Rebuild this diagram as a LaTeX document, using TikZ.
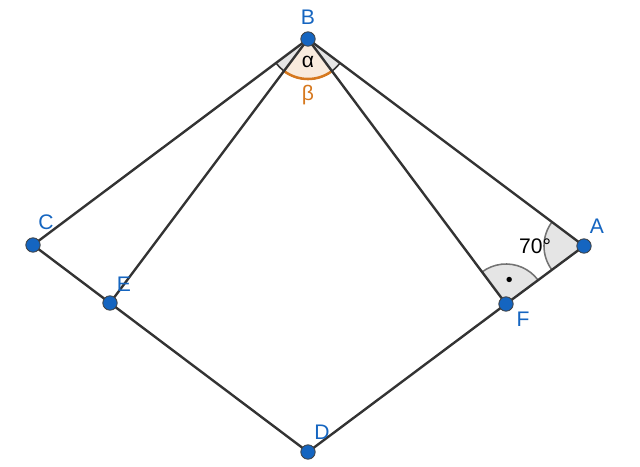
\documentclass[tikz,border=0pt]{standalone}
\usepackage{fontspec}
\setmainfont{Liberation Sans}
\usetikzlibrary{angles}

\definecolor{ptblue}{RGB}{21,101,192}
\definecolor{segline}{RGB}{51,51,51}
\definecolor{betaor}{RGB}{214,120,30}
\definecolor{arcgray}{RGB}{115,115,115}

\tikzset{
	seg/.style={segline, line width=1.7pt},
	pt/.style={circle, fill=ptblue, draw=black!75, line width=0.6pt, inner sep=0pt, minimum size=0.36cm},
	lbl/.style={text=ptblue, font=\fontsize{15}{18}\selectfont, inner sep=0pt},
	grayangle/.style={draw=arcgray, line width=1.1pt, fill=black!10, angle radius=1cm},
	orangeangle/.style={draw=betaor, line width=1.8pt, fill=betaor!15, angle radius=1cm},
}

\begin{document}
\begin{tikzpicture}[x=0.025cm, y=-0.025cm]
		\useasboundingbox (0,0) rectangle (640,467);
		\coordinate (B) at (308,39);
		\coordinate (C) at (33,245);
		\coordinate (E) at (110,303);
		\coordinate (D) at (308,452);
		\coordinate (F) at (506,304);
		\coordinate (A) at (584,246);
		% angle marks
		\pic [grayangle, draw=black!80] {angle=C--B--A};
		\pic [orangeangle, pic text={\color{betaor}\fontsize{15}{18}\selectfont β}, angle eccentricity=1.4] {angle=E--B--F};
		\pic [grayangle, pic text={\fontsize{15}{18}\selectfont 70°}, angle eccentricity=1.22] {angle=B--A--F};
		\pic [grayangle, pic text={\fontsize{14}{16}\selectfont •}, angle eccentricity=0.57] {angle=A--F--B};
		\node [font=\fontsize{15}{18}\selectfont, inner sep=0pt] (alpha) at (308,62) {α};
		% segments
		\draw [seg] (B) -- (C) -- (E) -- (D) -- (F) -- (A) -- (B);
		\draw [seg] (B) -- (E);
		\draw [seg] (B) -- (F);
		% points
		\foreach \p in {A,B,C,D,E,F}
			\node [pt] (p\p) at (\p) {};
		\node [lbl, shift={(0,-22)}] (lB) at (pB) {B};
		\node [lbl, shift={(13,-23)}] (lC) at (pC) {C};
		\node [lbl, shift={(14,-19)}] (lE) at (pE) {E};
		\node [lbl, shift={(14,-20)}] (lD) at (pD) {D};
		\node [lbl, shift={(17,15)}] (lF) at (pF) {F};
		\node [lbl, shift={(13,-20)}] (lA) at (pA) {A};
	\end{tikzpicture}
\end{document}
